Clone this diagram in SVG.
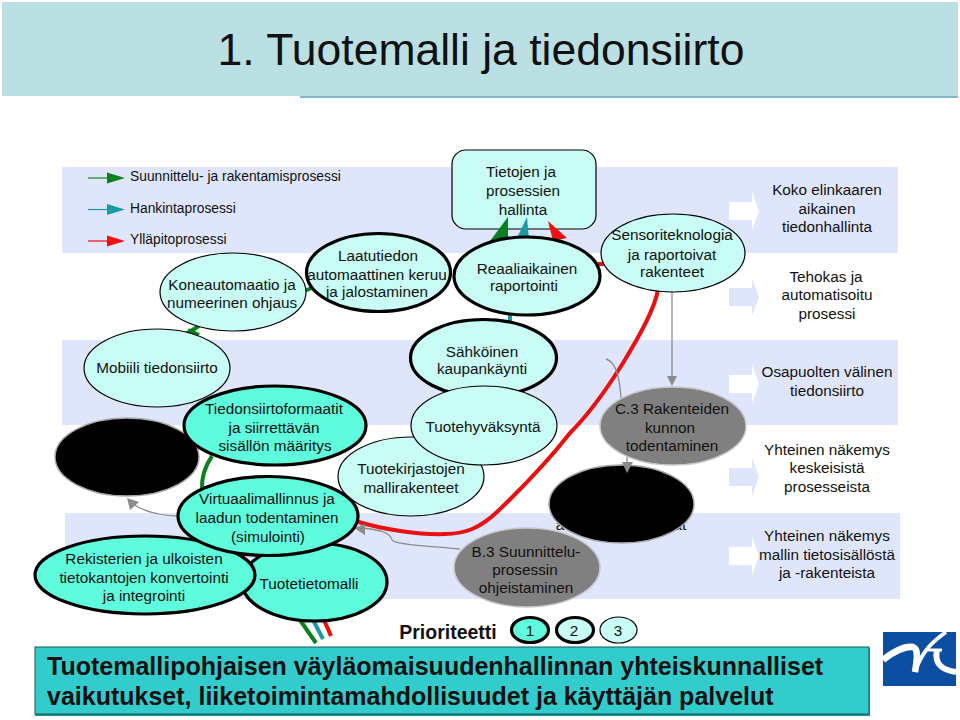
<svg xmlns="http://www.w3.org/2000/svg" width="960" height="720" viewBox="0 0 960 720">
<style>
text{font-family:"Liberation Sans",Arial,sans-serif;fill:#111;font-size:15.300px;text-anchor:middle}
.band{fill:#dfe6fb}
.light{fill:#c8fcf5;stroke:#000;stroke-width:1.2}
.lightb{fill:#c8fcf5;stroke:#000;stroke-width:3.2}
.teal{fill:#5ffbdd;stroke:#000;stroke-width:3.2}
.gray{fill:#808080;stroke:#c8c8c8;stroke-width:1.5}
.black{fill:#000;stroke:#aaa;stroke-width:1.5}
.c{fill:none}
.g{stroke:#0a8020;stroke-width:4}
.t{stroke:#1a9aa5;stroke-width:4}
.r{stroke:#e81010;stroke-width:4}
.a{stroke:#8c8c8c;stroke-width:1.3}
.leg{text-anchor:start;font-size:13.800px}
.w{fill:none;stroke:#fff}
</style>
<defs>
<path id="ba" d="M0,-9H23V-19L30,0L23,19V9H0Z"/>
</defs>
<rect x="2" y="2" width="956" height="94" fill="#bae0e3"/>
<rect x="300" y="96" width="658" height="2" fill="#7fb5cf"/>
<text x="481" y="65" style="font-size:44.500px">1. Tuotemalli ja tiedonsiirto</text>

<rect class="band" x="62" y="167" width="836" height="86"/>
<rect class="band" x="62" y="340" width="836" height="85"/>
<rect class="band" x="65" y="513" width="835" height="86"/>

<g id="block-arrows">
<use href="#ba" x="729" y="211" fill="#fff"/>
<use href="#ba" x="729" y="297" fill="#dfe6fb"/>
<use href="#ba" x="729" y="384" fill="#fff"/>
<use href="#ba" x="729" y="477" fill="#dfe6fb"/>
<use href="#ba" x="729" y="556" fill="#fff"/>
</g>

<g id="legend">
<path d="M88,178H108" stroke="#0a8020" stroke-width="1.2"/><path d="M107,172.500L125,178L107,183.500Z" fill="#0a8020"/>
<path d="M88,209.500H108" stroke="#1a9aa5" stroke-width="1.2"/><path d="M107,204L125,209.500L107,215Z" fill="#1a9aa5"/>
<path d="M88,241H108" stroke="#f01010" stroke-width="1.2"/><path d="M107,235.500L125,241L107,246.500Z" fill="#f01010"/>
<text class="leg" x="130" y="181">Suunnittelu- ja rakentamisprosessi</text>
<text class="leg" x="130" y="213">Hankintaprosessi</text>
<text class="leg" x="130" y="244">Ylläpitoprosessi</text>
</g>

<g id="outcomes">
<text x="827" y="195">Koko elinkaaren</text><text x="827" y="214">aikainen</text><text x="827" y="232">tiedonhallinta</text>
<text x="826" y="282">Tehokas ja</text><text x="827" y="300">automatisoitu</text><text x="827" y="319">prosessi</text>
<text x="827" y="377">Osapuolten välinen</text><text x="827" y="396">tiedonsiirto</text>
<text x="827" y="455">Yhteinen näkemys</text><text x="827" y="473">keskeisistä</text><text x="827" y="492">prosesseista</text>
<text x="827" y="541">Yhteinen näkemys</text><text x="827" y="560">mallin tietosisällöstä</text><text x="827" y="578">ja -rakenteista</text>
</g>

<text x="560" y="530">a</text>
<text x="680" y="530">at</text>

<g id="n-hallinta"><rect x="452" y="150" width="144" height="79" rx="14" fill="#c8fcf5" stroke="#000" stroke-width="1.2"/>
<text x="521" y="177">Tietojen ja</text><text x="523" y="196">prosessien</text><text x="523" y="215">hallinta</text></g>

<g id="connectors">
<path class="c g" d="M304,291L312,288"/>
<path class="c g" d="M199,326L186,334"/>
<path class="c g" d="M188,330Q195,333 199,335"/>
<path class="c g" d="M212,456Q201,472 202,490"/>
<path class="c t" d="M510,312V324"/>
<path class="c r" d="M595,264H604"/>
<path class="c r" d="M658,290C654,310 640,335 623,363C600,400 585,418 570,433C545,465 520,490 497,512C480,528 465,534 445,534C420,535 385,530 355,521"/>
<path class="c g" d="M300,620L316,643"/>
<path class="c t" d="M313,620L323,639"/>
<path class="c r" d="M324,620L331,636"/>
<path d="M508,217L490,241H508Z" fill="#0a8020"/>
<path d="M527,217L516,240H529Z" fill="#1a9aa5"/>
<path d="M548,221L553,241L567,238Z" fill="#f01010"/>
<path class="c a" d="M672,292V378"/><path d="M672,386L667,376H677Z" fill="#8c8c8c"/>
<path class="c a" d="M621,398C620,385 618,362 606,359"/>
<path class="c a" d="M627,456V464"/>
<path class="c a" d="M460,549C430,546 395,545 392,540C390,532 380,530 362,528"/>
<path d="M354,528L365,524L365,535Z" fill="#8c8c8c"/>
<path class="c a" d="M180,516C160,516 145,512 133,504"/>
<path d="M127,498L139,502L130,510Z" fill="#8c8c8c"/>
</g>

<g id="n-kone"><ellipse class="light" cx="233" cy="292" rx="73" ry="39"/><text x="232" y="290">Koneautomaatio ja</text><text x="232" y="308">numeerinen ohjaus</text></g>
<g id="n-laatu"><ellipse class="lightb" cx="378.500" cy="272.500" rx="72" ry="39"/><text x="378" y="261">Laatutiedon</text><text x="377" y="280">automaattinen keruu</text><text x="377" y="297">ja jalostaminen</text></g>
<g id="n-reaali"><ellipse class="lightb" cx="527" cy="276" rx="73" ry="39"/><text x="527" y="274">Reaaliaikainen</text><text x="524" y="291">raportointi</text></g>
<g id="n-sensori"><ellipse class="light" cx="673" cy="253" rx="72" ry="39"/><text x="672" y="240">Sensoriteknologia</text><text x="672" y="260">ja raportoivat</text><text x="672" y="277">rakenteet</text></g>

<g id="n-mobiili"><ellipse class="light" cx="157" cy="368" rx="73" ry="39"/><text x="157" y="373">Mobiili tiedonsiirto</text></g>
<g id="n-sahko"><ellipse class="lightb" cx="483.500" cy="358" rx="73" ry="38.500"/><text x="482" y="357">Sähköinen</text><text x="482" y="374">kaupankäynti</text></g>
<g id="n-black1"><ellipse class="black" cx="127" cy="457" rx="72" ry="39"/></g>
<g id="n-tiedon"><ellipse class="teal" cx="275" cy="425.500" rx="91" ry="39.500"/><text x="274" y="414">Tiedonsiirtoformaatit</text><text x="274" y="433">ja siirrettävän</text><text x="275" y="451">sisällön määritys</text></g>
<g id="n-kirjasto"><ellipse class="light" cx="411" cy="476.500" rx="73" ry="39.500"/><text x="411" y="474">Tuotekirjastojen</text><text x="411" y="493">mallirakenteet</text></g>
<g id="n-hyvaksynta"><ellipse class="light" cx="484" cy="425.500" rx="73" ry="39.500"/><text x="483" y="432">Tuotehyväksyntä</text></g>
<g id="n-c3"><ellipse class="gray" cx="673" cy="426" rx="73" ry="39"/><text x="672" y="414">C.3 Rakenteiden</text><text x="670" y="433">kunnon</text><text x="672" y="451">todentaminen</text></g>
<g id="n-black2"><ellipse class="black" cx="621.500" cy="504" rx="72.500" ry="39"/></g>
<path d="M627,473L622,462H633Z" fill="#8c8c8c"/>
<g id="n-b3"><ellipse class="gray" cx="527" cy="567.500" rx="73" ry="39.500"/><text x="526" y="557">B.3 Suunnittelu-</text><text x="525" y="575">prosessin</text><text x="526" y="593">ohjeistaminen</text></g>
<g id="n-tuote"><ellipse class="teal" cx="314.500" cy="582" rx="72.500" ry="39"/><text x="309" y="589">Tuotetietomalli</text></g>
<g id="n-rekisteri"><ellipse class="teal" cx="145" cy="575" rx="110" ry="39"/><text x="144" y="564">Rekisterien ja ulkoisten</text><text x="144" y="583">tietokantojen konvertointi</text><text x="144" y="601">ja integrointi</text></g>
<g id="n-virtuaali"><ellipse class="teal" cx="268" cy="516" rx="90" ry="39.500"/><text x="267" y="504">Virtuaalimallinnus ja</text><text x="267" y="523">laadun todentaminen</text><text x="268" y="542">(simulointi)</text></g>

<g id="priority">
<text x="448" y="639" style="font-size:19.500px;font-weight:bold">Prioriteetti</text>
<ellipse class="teal" cx="530" cy="630" rx="18.500" ry="12.500"/><text x="530" y="636">1</text>
<ellipse class="lightb" cx="575" cy="630" rx="18.500" ry="12.500"/><text x="574" y="636">2</text>
<ellipse class="light" cx="618.500" cy="630" rx="18.500" ry="13"/><text x="618" y="636">3</text>
</g>

<g id="impact">
<rect x="35" y="648" width="835" height="68" fill="#1f8f96"/>
<rect x="35" y="647" width="834" height="67" fill="#33cccc" stroke="#1a5a5a" stroke-width="1"/>
<text x="47" y="675" style="text-anchor:start;font-size:25px;font-weight:bold">Tuotemallipohjaisen väyläomaisuudenhallinnan yhteiskunnalliset</text>
<text x="47" y="705" style="text-anchor:start;font-size:25px;font-weight:bold">vaikutukset, liiketoimintamahdollisuudet ja käyttäjän palvelut</text>
</g>

<g id="logo">
<rect x="883" y="632" width="73" height="54" fill="#0b4ea2"/>
<path class="w" stroke-width="6.500" d="M883,660C893,652 905,646 913,647C919,649 917,660 915,672"/>
<path class="w" stroke-width="4" d="M946,632C935,640 922,650 915,672"/>
<path class="w" stroke-width="6" d="M937,650C934,664 942,670 956,672"/>
<path class="w" stroke-width="3" d="M927,650H942"/>
</g>
</svg>
